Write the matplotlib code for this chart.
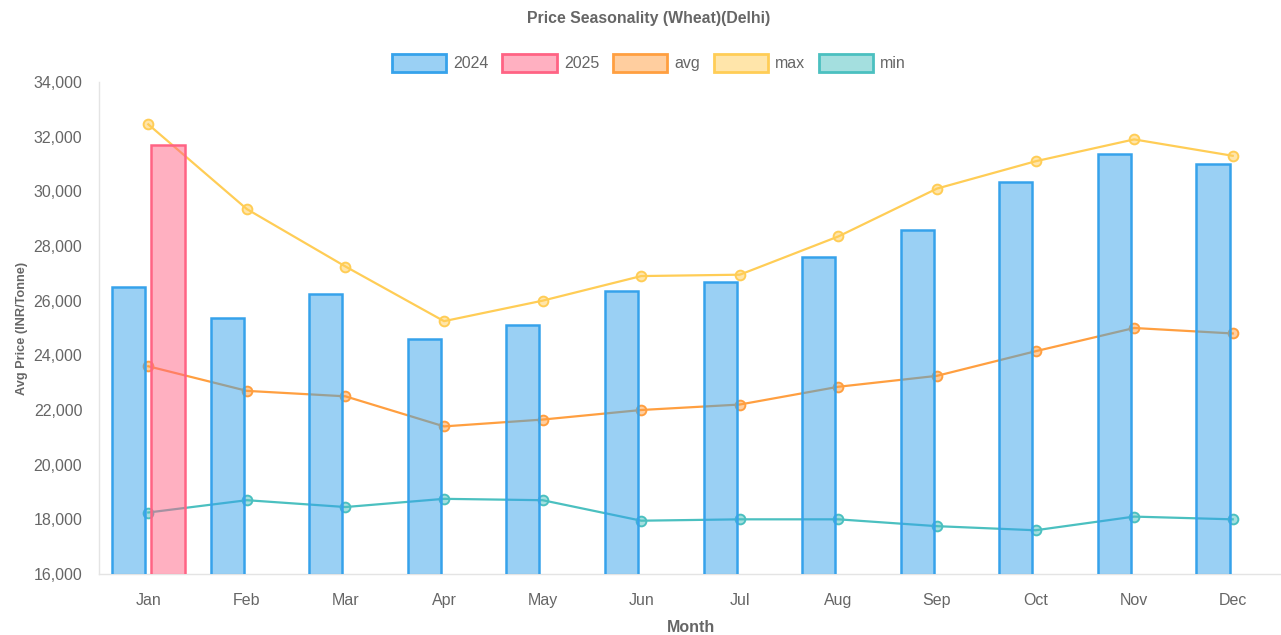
import numpy as np
import matplotlib
matplotlib.use("Agg")
import matplotlib.pyplot as plt
from matplotlib.patches import Patch

plt.rcParams["font.family"] = ["Liberation Sans", "DejaVu Sans"]

# ─── DATA ──────────────────────────────────────────────────────────────────────
MONTHS = ["Jan", "Feb", "Mar", "Apr", "May", "Jun",
          "Jul", "Aug", "Sep", "Oct", "Nov", "Dec"]
PRICE_2024 = [26500, 25350, 26250, 24600, 25100, 26350,
              26700, 27600, 28600, 30350, 31350, 31000]
PRICE_2025 = [31700, None, None, None, None, None,
              None, None, None, None, None, None]
PRICE_AVG = [23600, 22700, 22500, 21400, 21650, 22000,
             22200, 22850, 23250, 24150, 25000, 24800]
PRICE_MAX = [32450, 29350, 27250, 25250, 26000, 26900,
             26950, 28350, 30100, 31100, 31900, 31300]
PRICE_MIN = [18250, 18700, 18450, 18750, 18700, 17950,
             18000, 18000, 17750, 17600, 18100, 18000]

BLUE = (54/255, 162/255, 235/255)
PINK = (255/255, 99/255, 132/255)
ORANGE = (255/255, 159/255, 64/255)
YELLOW = (255/255, 205/255, 86/255)
TEAL = (75/255, 192/255, 192/255)
TEXT = "#666666"

fig = plt.figure(figsize=(12.81, 6.35), dpi=100)
ax = fig.add_axes([99/1281, 61/635, 1183/1281, 492/635])

x = np.arange(len(MONTHS))
slot = 0.8 / 2
bar_w = slot * 0.84

# lines (drawn below bars)
for vals, col in [(PRICE_AVG, ORANGE), (PRICE_MAX, YELLOW), (PRICE_MIN, TEAL)]:
    ax.plot(x, vals, color=col, lw=1.6, zorder=2,
            marker="o", ms=7, mfc=col + (0.5,), mec=col, mew=1.4)

# bars
ax.bar(x - slot/2, PRICE_2024, width=bar_w, color=BLUE + (0.5,),
       edgecolor=BLUE, linewidth=1.8, zorder=3)
v25 = [np.nan if v is None else v for v in PRICE_2025]
ax.bar(x + slot/2, v25, width=bar_w, color=PINK + (0.5,),
       edgecolor=PINK, linewidth=1.8, zorder=3)

ax.set_xlim(-0.5, len(MONTHS) - 0.5)
ax.set_ylim(16000, 34000)
ax.set_yticks(range(16000, 34001, 2000))
ax.set_yticklabels([f"{v:,}" for v in range(16000, 34001, 2000)])
ax.set_xticks(x)
ax.set_xticklabels(MONTHS)
ax.tick_params(axis="both", colors=TEXT, labelsize=11.5, length=0)
ax.tick_params(axis="x", pad=14)
ax.tick_params(axis="y", pad=12)

for side in ["top", "right"]:
    ax.spines[side].set_visible(False)
for side in ["left", "bottom"]:
    ax.spines[side].set_color("#e4e4e4")
    ax.spines[side].set_linewidth(1)

ax.set_xlabel("Month", color=TEXT, fontsize=11.5, fontweight="bold", labelpad=8)
ax.set_ylabel("Avg Price (INR/Tonne)", color=TEXT, fontsize=9.2, fontweight="bold", labelpad=4)

cx = 649 / 1281
fig.text(cx, 1 - 18/635, "Price Seasonality (Wheat)(Delhi)", ha="center", va="center",
         color=TEXT, fontsize=11.4, fontweight="bold")

handles = [
    Patch(facecolor=BLUE + (0.5,), edgecolor=BLUE, linewidth=2, label="2024"),
    Patch(facecolor=PINK + (0.5,), edgecolor=PINK, linewidth=2, label="2025"),
    Patch(facecolor=ORANGE + (0.5,), edgecolor=ORANGE, linewidth=2, label="avg"),
    Patch(facecolor=YELLOW + (0.5,), edgecolor=YELLOW, linewidth=2, label="max"),
    Patch(facecolor=TEAL + (0.5,), edgecolor=TEAL, linewidth=2, label="min"),
]
leg = fig.legend(handles=handles, loc="center", bbox_to_anchor=(cx, 1 - 63/635),
                 ncol=5, frameon=False, fontsize=11.5, handlelength=3.4, handleheight=1.35,
                 handletextpad=0.45, columnspacing=0.85, labelcolor=TEXT)

fig.savefig("out.png", dpi=100)
